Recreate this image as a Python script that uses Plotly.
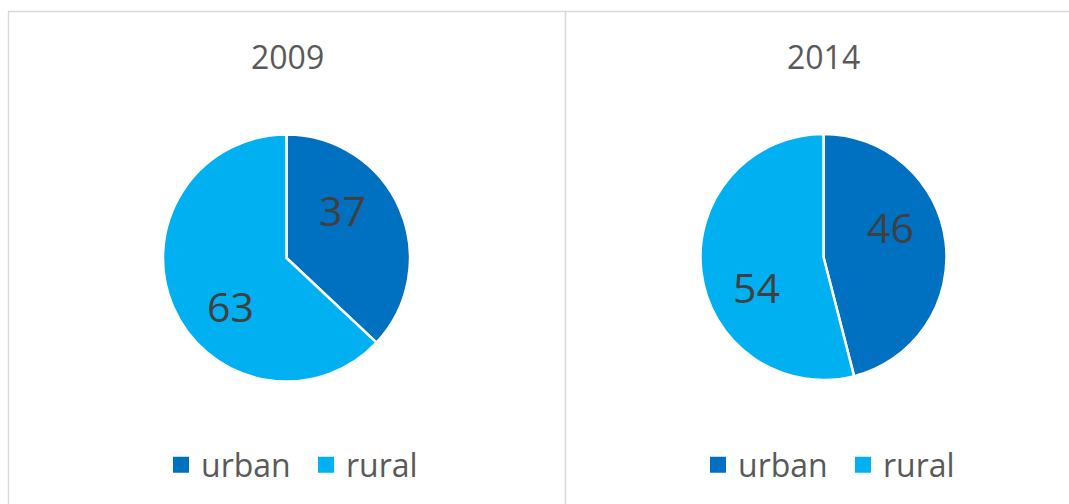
import math
import plotly.graph_objects as go

# shares of population, percent
labels = ['urban', 'rural']
years = ['2009', '2014']
share_2009 = [37, 63]
share_2014 = [46, 54]
colors = ['#0070C0', '#00B0F0']

W, H = 1069, 504
font = 'Open Sans, Arial, sans-serif'

# pie centres / radius in px
pies = [(share_2009, 286.5, 258, 123.5, 'legend'), (share_2014, 823.5, 257, 123, 'legend2')]

fig = go.Figure()
for vals, cx, cy, r, leg in pies:
    fig.add_trace(go.Pie(
        labels=labels, values=vals, sort=False, direction='clockwise', rotation=0,
        marker=dict(colors=colors, line=dict(color='white', width=2.5)),
        textinfo='none', showlegend=False, hoverinfo='label+value',
        domain=dict(x=[(cx - r) / W, (cx + r) / W], y=[(H - cy - r) / H, (H - cy + r) / H]),
    ))
    # value labels placed inside each slice, along (roughly) its mid angle
    total = sum(vals)
    cum = 0
    for v in vals:
        mid = (cum + v / 2) / total * 360 - 17
        cum += v
        lx = cx + 0.6 * r * math.sin(math.radians(mid))
        ly = cy - 0.6 * r * math.cos(math.radians(mid))
        fig.add_annotation(text=str(v), x=lx / W, y=(H - ly) / H, xref='paper', yref='paper',
                           showarrow=False, xanchor='center', yanchor='middle',
                           font=dict(size=41, color='#404040', family=font))
    # legend entries
    for lab, col in zip(labels, colors):
        fig.add_trace(go.Scatter(x=[None], y=[None], mode='markers', name=lab, legend=leg,
                                 marker=dict(symbol='square', size=16, color=col)))

# panel frames
for x0, x1 in [(8.5, 565.5), (565.5, 1080)]:
    fig.add_shape(type='rect', xref='paper', yref='paper',
                  x0=x0 / W, x1=x1 / W, y0=-0.05, y1=(H - 11.5) / H,
                  line=dict(color='#D9D9D9', width=1.3), fillcolor='rgba(0,0,0,0)')

# panel titles
for yr, cx in zip(years, [287, 823]):
    fig.add_annotation(text=yr, x=cx / W, y=(H - 56) / H, xref='paper', yref='paper',
                       showarrow=False, xanchor='center', yanchor='middle',
                       font=dict(size=32, color='#595959', family=font))

leg = dict(orientation='h', xanchor='left', yanchor='middle', y=39 / H,
           font=dict(size=32, color='#595959', family=font),
           bgcolor='rgba(0,0,0,0)', itemwidth=30, entrywidth=100)

fig.update_layout(
    width=W, height=H, margin=dict(l=0, r=0, t=0, b=0),
    paper_bgcolor='white', plot_bgcolor='white',
    xaxis=dict(visible=False), yaxis=dict(visible=False),
    legend=dict(leg, x=161 / W),
    legend2=dict(leg, x=698 / W),
)

fig.write_html('out.html', post_script="document.body.style.margin='0px';",
               config={'displayModeBar': False})
